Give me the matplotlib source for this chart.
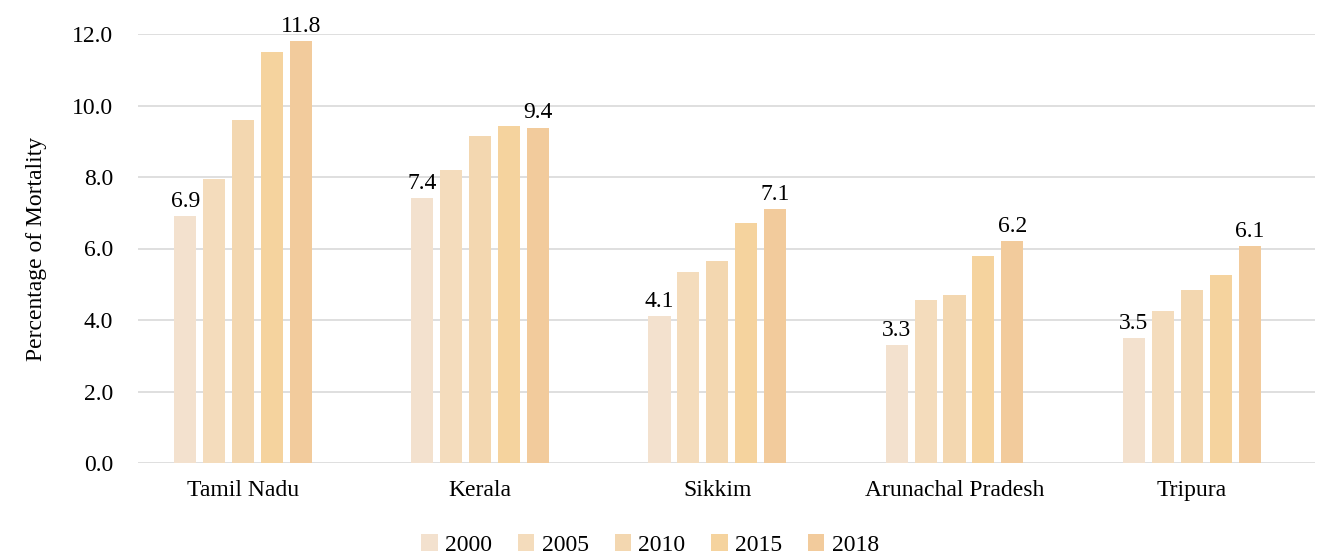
import matplotlib.pyplot as plt
import numpy as np

plt.rcParams['font.family'] = ['Liberation Serif', 'DejaVu Serif']

states = ['Tamil Nadu', 'Kerala', 'Sikkim', 'Arunachal Pradesh', 'Tripura']
years = ['2000', '2005', '2010', '2015', '2018']
v2000 = [6.9, 7.4, 4.1, 3.3, 3.5]
v2005 = [7.95, 8.2, 5.35, 4.55, 4.25]
v2010 = [9.6, 9.15, 5.65, 4.7, 4.85]
v2015 = [11.5, 9.42, 6.7, 5.8, 5.25]
v2018 = [11.8, 9.38, 7.1, 6.2, 6.06]
series = [v2000, v2005, v2010, v2015, v2018]
colors = ['#F3E1CE', '#F4DCBC', '#F3D7B0', '#F5D39E', '#F2CB9C']

fig = plt.figure(figsize=(13.19, 5.57), dpi=100)
ax = fig.add_axes([138 / 1319, 1 - 463 / 557, (1315 - 138) / 1319, (463 - 34) / 557])

fs = 17
x = np.arange(len(states))
step = 0.122
width = 0.093
for i, (vals, c, yr) in enumerate(zip(series, colors, years)):
    pos = x + (i - 2) * step
    bars = ax.bar(pos, vals, width, color=c, label=yr, zorder=3)
    if i in (0, 4):
        for b, v in zip(bars, vals):
            ax.text(b.get_x() + b.get_width() / 2, v + 0.12, f'{v:.1f}',
                    ha='center', va='bottom', fontsize=fs)

ax.set_xlim(-0.443, 4.52)
ax.set_ylim(0, 12)
ticks = np.arange(0, 12.1, 2)
ax.set_yticks(ticks)
ax.set_yticklabels([f'{t:.1f}' for t in ticks], fontsize=fs)
ax.set_xticks(x)
ax.set_xticklabels(states, fontsize=fs)
ax.tick_params(axis='both', length=0)
ax.tick_params(axis='y', pad=18)
ax.tick_params(axis='x', pad=12)
ax.grid(axis='y', color='#D9D9D9', linewidth=1.2, zorder=0)
for s in ax.spines.values():
    s.set_visible(False)
ax.set_ylabel('Percentage of Mortality', fontsize=fs, labelpad=18)

ax.legend(loc='center', bbox_to_anchor=((650 - 138) / 1177, -(545 - 463) / 429),
          ncol=5, frameon=False, fontsize=fs, handlelength=0.7, handleheight=0.7,
          handletextpad=0.3, columnspacing=1.1, borderpad=0)

fig.savefig('out.png', dpi=100)
